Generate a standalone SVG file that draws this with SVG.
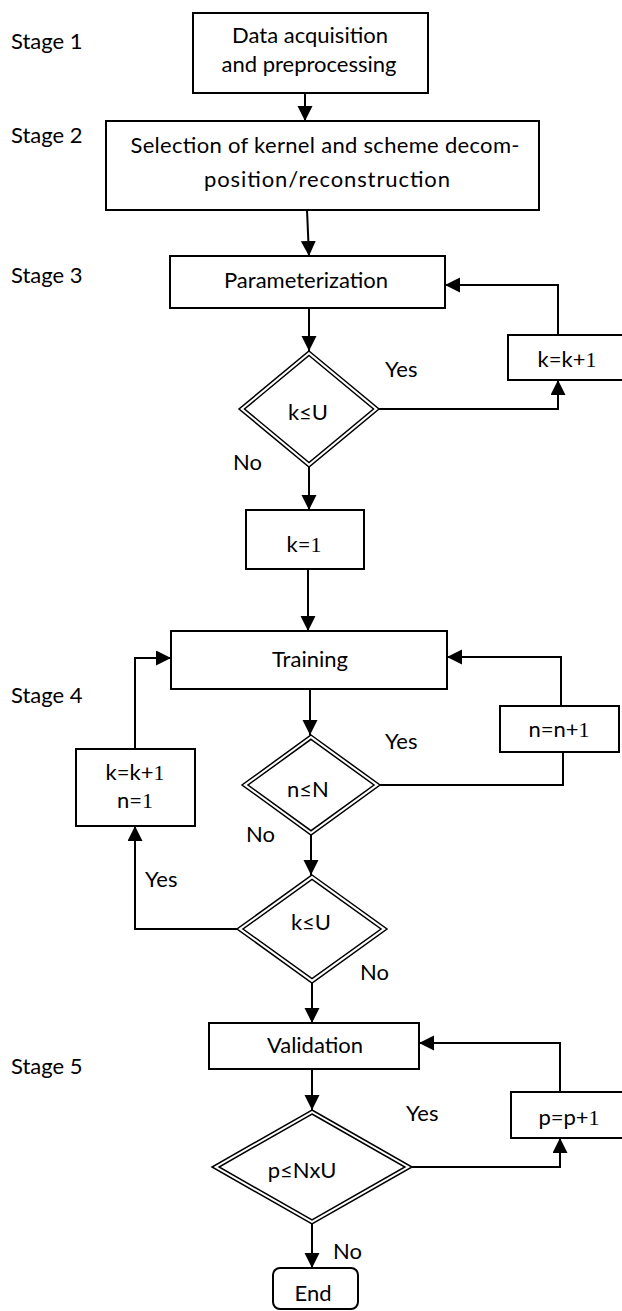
<svg xmlns="http://www.w3.org/2000/svg" width="622" height="1311" viewBox="0 0 622 1311">
<style>
  .box { fill: #fff; stroke: #000; stroke-width: 2; }
  .dia { fill: none; stroke: #000; stroke-width: 1.5; }
  .t { font-family: Lato, "Open Sans", "DejaVu Sans", sans-serif; font-size: 22px; fill: #000; }
  .m { text-anchor: middle; }
  .s { font-family: "Liberation Serif", serif; }
  .c { fill: none; stroke: #000; stroke-width: 2; }
</style>
<defs>
  <marker id="ah" markerUnits="userSpaceOnUse" markerWidth="16" markerHeight="16" refX="15" refY="7.5" orient="auto">
    <path d="M0,0 L15,7.5 L0,15 z" fill="#000"/>
  </marker>
</defs>
<rect width="622" height="1311" fill="#fff"/>

<g id="stages">
  <text class="t" x="11" y="49">Stage 1</text>
  <text class="t" x="11" y="143">Stage 2</text>
  <text class="t" x="11" y="283">Stage 3</text>
  <text class="t" x="11" y="703">Stage 4</text>
  <text class="t" x="11" y="1074">Stage 5</text>
</g>

<g id="connectors">
  <path class="c" d="M305,93 V121" marker-end="url(#ah)"/>
  <path class="c" d="M307,210 L309,256" marker-end="url(#ah)"/>
  <path class="c" d="M309,308 V351" marker-end="url(#ah)"/>
  <path class="c" d="M379,409 H558 V380" marker-end="url(#ah)"/>
  <path class="c" d="M558,335 V285 H445" marker-end="url(#ah)"/>
  <path class="c" d="M309,467 V510" marker-end="url(#ah)"/>
  <path class="c" d="M308,569 V631" marker-end="url(#ah)"/>
  <path class="c" d="M310,689 V735" marker-end="url(#ah)"/>
  <path class="c" d="M380,785 H563 V752"/>
  <path class="c" d="M561,706 V657 H447" marker-end="url(#ah)"/>
  <path class="c" d="M311,835 V875" marker-end="url(#ah)"/>
  <path class="c" d="M237,929 H135 V826" marker-end="url(#ah)"/>
  <path class="c" d="M135,749 V658 H171" marker-end="url(#ah)"/>
  <path class="c" d="M312,983 V1023" marker-end="url(#ah)"/>
  <path class="c" d="M312,1069 V1110" marker-end="url(#ah)"/>
  <path class="c" d="M412,1167 H560 V1138" marker-end="url(#ah)"/>
  <path class="c" d="M560,1092 V1043 H419" marker-end="url(#ah)"/>
  <path class="c" d="M312,1224 V1268" marker-end="url(#ah)"/>
</g>

<g id="labels">
  <text class="t" x="385" y="377">Yes</text>
  <text class="t" x="233" y="470">No</text>
  <text class="t" x="385" y="749">Yes</text>
  <text class="t" x="246" y="842">No</text>
  <text class="t" x="145" y="887">Yes</text>
  <text class="t" x="360" y="980">No</text>
  <text class="t" x="406" y="1121">Yes</text>
  <text class="t" x="333" y="1259">No</text>
</g>

<g id="acquisition">
  <rect class="box" x="193" y="13" width="235" height="80"/>
  <text class="t m" x="310" y="43">Data acquisition</text>
  <text class="t m" x="309" y="72">and preprocessing</text>
</g>
<g id="selection">
  <rect class="box" x="106" y="121" width="433" height="89"/>
  <text class="t m" x="325" y="153" textLength="389" lengthAdjust="spacing">Selection of kernel and scheme decom-</text>
  <text class="t m" x="327" y="187" textLength="246" lengthAdjust="spacing">position/reconstruction</text>
</g>
<g id="parameterization">
  <rect class="box" x="170" y="256" width="275" height="52"/>
  <text class="t m" x="306" y="288">Parameterization</text>
</g>
<g id="inc-k1">
  <rect class="box" x="508" y="335" width="118" height="45"/>
  <text class="t m" x="567" y="367">k=k+<tspan class="s">1</tspan></text>
</g>
<g id="dec-k1">
  <polygon class="dia" points="309,351 379,409 309,467 239,409"/>
  <polygon class="dia" points="309,355.5 373.5,409 309,462.5 244.5,409"/>
  <text class="t m" x="308" y="420">k≤U</text>
</g>
<g id="k-init">
  <rect class="box" x="246" y="510" width="118" height="59"/>
  <text class="t m" x="304" y="552">k=<tspan class="s">1</tspan></text>
</g>
<g id="training">
  <rect class="box" x="171" y="631" width="276" height="58"/>
  <text class="t m" x="310" y="667">Training</text>
</g>
<g id="inc-n">
  <rect class="box" x="500" y="706" width="119" height="46"/>
  <text class="t m" x="559" y="737">n=n+<tspan class="s">1</tspan></text>
</g>
<g id="dec-n">
  <polygon class="dia" points="311,735 380,785 311,835 242,785"/>
  <polygon class="dia" points="311,739.3 374,785 311,830.7 248,785"/>
  <text class="t m" x="308" y="797">n≤N</text>
</g>
<g id="inc-k2">
  <rect class="box" x="76" y="749" width="119" height="77"/>
  <text class="t m" x="135" y="780">k=k+<tspan class="s">1</tspan></text>
  <text class="t m" x="135" y="808">n=<tspan class="s">1</tspan></text>
</g>
<g id="dec-k2">
  <polygon class="dia" points="312,875 387,929 312,983 237,929"/>
  <polygon class="dia" points="312,879.3 381,929 312,978.7 243,929"/>
  <text class="t m" x="311" y="930">k≤U</text>
</g>
<g id="validation">
  <rect class="box" x="209" y="1023" width="210" height="46"/>
  <text class="t m" x="315" y="1053">Validation</text>
</g>
<g id="inc-p">
  <rect class="box" x="511" y="1092" width="115" height="46"/>
  <text class="t m" x="569" y="1125">p=p+<tspan class="s">1</tspan></text>
</g>
<g id="dec-p">
  <polygon class="dia" points="312,1110 412,1167 312,1224 212,1167"/>
  <polygon class="dia" points="312,1114 404.9,1167 312,1220 219.1,1167"/>
  <text class="t m" x="302" y="1178">p≤NxU</text>
</g>
<g id="end">
  <rect class="box" x="273" y="1268" width="85" height="41" rx="7"/>
  <text class="t m" x="313" y="1301">End</text>
</g>
</svg>
